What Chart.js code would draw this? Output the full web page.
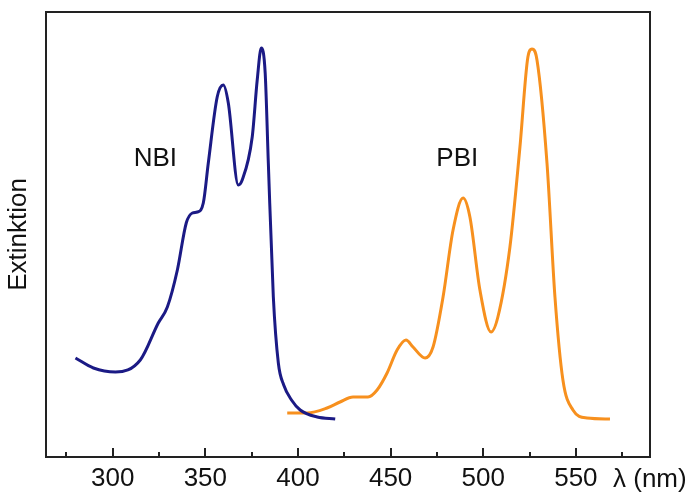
<!DOCTYPE html>
<html>
<head>
<meta charset="utf-8">
<script src="https://cdn.jsdelivr.net/npm/chart.js@4.4.1/dist/chart.umd.min.js"></script>
<style>
  html, body { margin: 0; padding: 0; background: #fff; }
  #wrap { width: 691px; height: 492px; }
</style>
</head>
<body>
<div id="wrap"><canvas id="spectra" width="691" height="492"></canvas></div>
<script>
// Absorption spectra (wavelength in nm, extinction in arbitrary units)
const nbiWavelength = [279.9, 289.6, 301.5, 314.9, 324.6, 329.5, 334.9, 339.7, 343.0, 345.7,
    348.9, 351.6, 356.4, 359.7, 362.4, 367.8, 369.9, 375.3, 378.0, 380.2,
    382.3, 384.0, 386.7, 389.4, 392.3, 396.5, 401.2, 410.4, 420.1];
const nbiExtinction = [99, 89, 85, 97, 134, 150, 187, 234, 244, 245,
    254, 294, 360, 372, 354, 272, 277, 320, 377, 409,
    384, 294, 160, 94, 72, 57, 47, 40, 38];

const pbiWavelength = [394.2, 404.9, 415.7, 422.7, 429.7, 437.8, 442.7, 448.1, 453.5, 458.3,
    462.1, 468.6, 472.9, 478.3, 483.7, 489.1, 492.8, 498.2, 504.2, 507.9,
    514.4, 519.8, 524.1, 526.3, 529.0, 534.4, 538.7, 543.0, 548.4, 556.0, 568.4];
const pbiExtinction = [44, 44, 49, 55, 60, 60, 67, 84, 107, 117,
    110, 99, 110, 160, 227, 259, 240, 167, 125, 140,
    210, 310, 400, 408, 397, 294, 160, 77, 47, 39, 38];

const majorTicks = [300, 350, 400, 450, 500, 550];
const minorTicks = [275, 325, 375, 425, 475, 525, 575];

const toPoints = (xs, ys) => xs.map((x, i) => ({ x: x, y: ys[i] }));

const FONT = 'Liberation Sans, Arial, sans-serif';

// frame, inward tick marks and text labels
const decorations = {
    id: 'decorations',
    afterDraw(chart) {
        const ctx = chart.ctx;
        const area = chart.chartArea;
        const xs = chart.scales.x;
        const ys = chart.scales.y;
        ctx.save();
        ctx.strokeStyle = '#222';
        ctx.lineWidth = 2;
        ctx.strokeRect(area.left, area.top, area.right - area.left, area.bottom - area.top);

        ctx.beginPath();
        majorTicks.forEach(v => {
            const px = Math.round(xs.getPixelForValue(v));
            ctx.moveTo(px, area.bottom);
            ctx.lineTo(px, area.bottom - 9);
        });
        minorTicks.forEach(v => {
            const px = Math.round(xs.getPixelForValue(v));
            ctx.moveTo(px, area.bottom);
            ctx.lineTo(px, area.bottom - 5);
        });
        ctx.stroke();

        ctx.fillStyle = '#111';
        ctx.font = '26px ' + FONT;
        ctx.textBaseline = 'middle';
        ctx.textAlign = 'center';
        ctx.fillText('NBI', xs.getPixelForValue(323), ys.getPixelForValue(298));
        ctx.fillText('PBI', xs.getPixelForValue(486), ys.getPixelForValue(298));
        ctx.textAlign = 'left';
        ctx.fillText('\u03bb (nm)', xs.right + 2 - 39, xs.top + 23);
        ctx.restore();
    }
};

new Chart(document.getElementById('spectra').getContext('2d'), {
    type: 'line',
    data: {
        datasets: [
            {
                label: 'NBI',
                data: toPoints(nbiWavelength, nbiExtinction),
                borderColor: '#1b1a85',
                borderWidth: 3,
                pointRadius: 0,
                cubicInterpolationMode: 'monotone',
                fill: false
            },
            {
                label: 'PBI',
                data: toPoints(pbiWavelength, pbiExtinction),
                borderColor: '#f7901e',
                borderWidth: 3,
                pointRadius: 0,
                cubicInterpolationMode: 'monotone',
                fill: false
            }
        ]
    },
    options: {
        responsive: false,
        animation: false,
        layout: { padding: { top: 12, right: 41, left: 0, bottom: 0 } },
        plugins: {
            legend: { display: false },
            tooltip: { enabled: false }
        },
        scales: {
            x: {
                type: 'linear',
                min: 264,
                max: 590,
                afterBuildTicks: (scale) => { scale.ticks = majorTicks.map(v => ({ value: v })); },
                afterFit: (scale) => { scale.height = 35; },
                grid: { display: false, drawTicks: false },
                border: { display: false },
                ticks: {
                    color: '#111',
                    padding: 6,
                    maxRotation: 0,
                    autoSkip: false,
                    font: { size: 26, family: FONT }
                }
            },
            y: {
                min: 0,
                max: 445,
                afterFit: (scale) => { scale.width = 46; },
                grid: { display: false, drawTicks: false },
                border: { display: false },
                ticks: { display: false },
                title: {
                    display: true,
                    text: 'Extinktion',
                    color: '#111',
                    padding: { top: 3, bottom: 0 },
                    font: { size: 26, family: FONT }
                }
            }
        }
    },
    plugins: [decorations]
});
</script>
</body>
</html>
